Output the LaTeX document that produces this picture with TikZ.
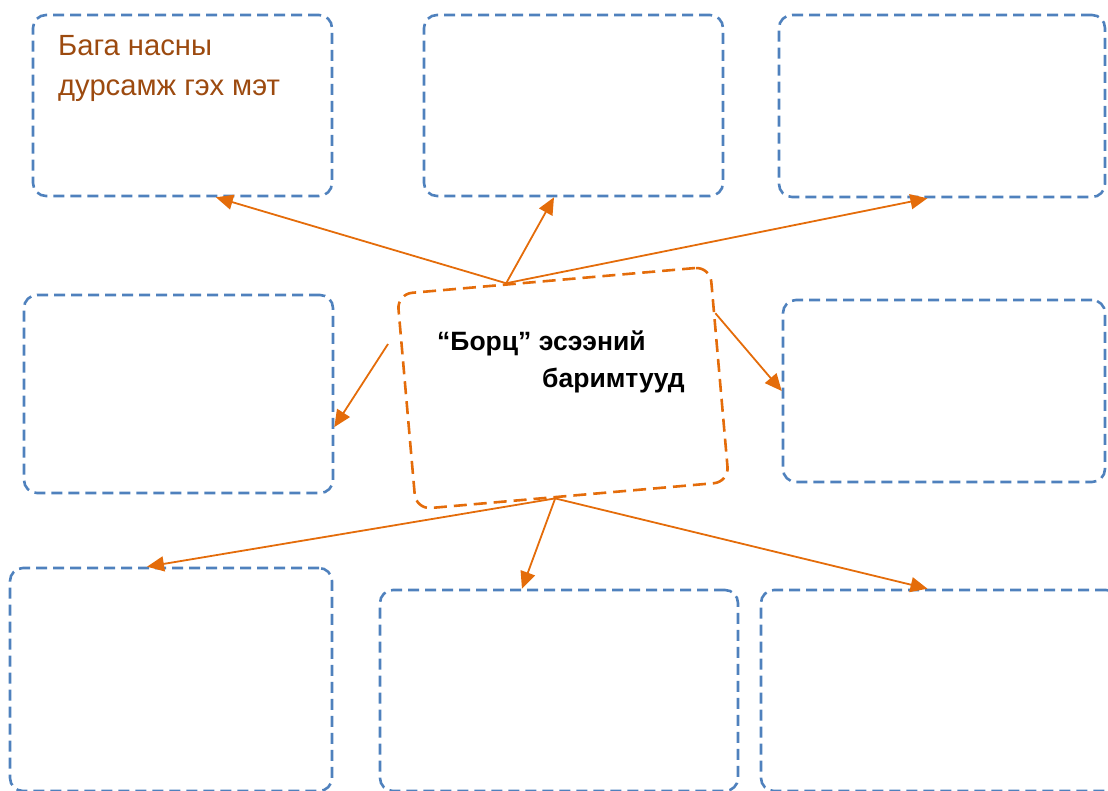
\documentclass[tikz,border=0pt]{standalone}
\usepackage{fontspec}
\setmainfont{Liberation Sans}
\usetikzlibrary{arrows.meta,calc}

\definecolor{boxblue}{HTML}{4F81BD}
\definecolor{linkorange}{HTML}{E46C0A}
\definecolor{notebrown}{HTML}{9C4A0F}

\tikzset{
  blankbox/.style={draw=boxblue, line width=2.6pt, dash pattern=on 11pt off 6pt,
    rounded corners=13pt},
  essaybox/.style={draw=linkorange, line width=2.6pt, dash pattern=on 13pt off 7pt,
    rounded corners=15pt},
  link/.style={draw=linkorange, line width=1.8pt, -{Triangle[length=17pt,width=15pt]}}
}

\begin{document}
\begin{tikzpicture}[x=1pt, y=-1pt]
\useasboundingbox (0,0) rectangle (1108,790);
\clip (0,0) rectangle (1108,790);

% outer boxes
\node[blankbox, minimum width=299pt, minimum height=181pt] (memory) at (182.5,105.5) {};
\node[blankbox, minimum width=299pt, minimum height=181pt] (topmid) at (573.5,105.5) {};
\node[blankbox, minimum width=326pt, minimum height=182pt] (topright) at (942,106) {};
\node[blankbox, minimum width=309pt, minimum height=198pt] (midleft) at (178.5,394) {};
\node[blankbox, minimum width=322pt, minimum height=182pt] (midright) at (944,391) {};
\node[blankbox, minimum width=322pt, minimum height=223pt] (botleft) at (171,679.5) {};
\node[blankbox, minimum width=358pt, minimum height=201pt] (botmid) at (559,690.5) {};
\node[blankbox, minimum width=358pt, minimum height=201pt] (botright) at (940,690.5) {};

\node[anchor=base west, inner sep=0pt, align=left, text=notebrown,
  font=\fontsize{29.2}{40}\selectfont]
  (memorytext) at (58,95) {Бага насны\\дурсамж гэх мэт};

% centre
\node[essaybox, rotate=5, minimum width=314pt, minimum height=216pt] (essay) at (563,388) {};
\node[anchor=base west, inner sep=0pt, align=left, font=\bfseries\fontsize{26.5}{37}\selectfont]
  (essaytitle) at (437,387) {“Борц” эсээний\\\hspace*{105pt}баримтууд};

\coordinate (essaytop) at ($(essay.north west)!0.35!(essay.north east)$);
\coordinate (essaybot) at ($(essay.south west)!0.445!(essay.south east)$);
\coordinate (essayright) at ($(essay.north east)!0.22!(essay.south east)$);
\coordinate (essayleft) at (388,344);

% arrows
\draw[link] (essaytop) -- (memory.-70);
\draw[link] (essaytop) -- (topmid.-102);
\draw[link] (essaytop) -- (topright.-99);
\draw[link] (essayleft) -- (midleft.-12);
\draw[link] (essayright) -- (midright.west);
\draw[link] (essaybot) -- (botleft.102);
\draw[link] (essaybot) -- (botmid.110);
\draw[link] (essaybot) -- (botright.97);
\end{tikzpicture}
\end{document}
